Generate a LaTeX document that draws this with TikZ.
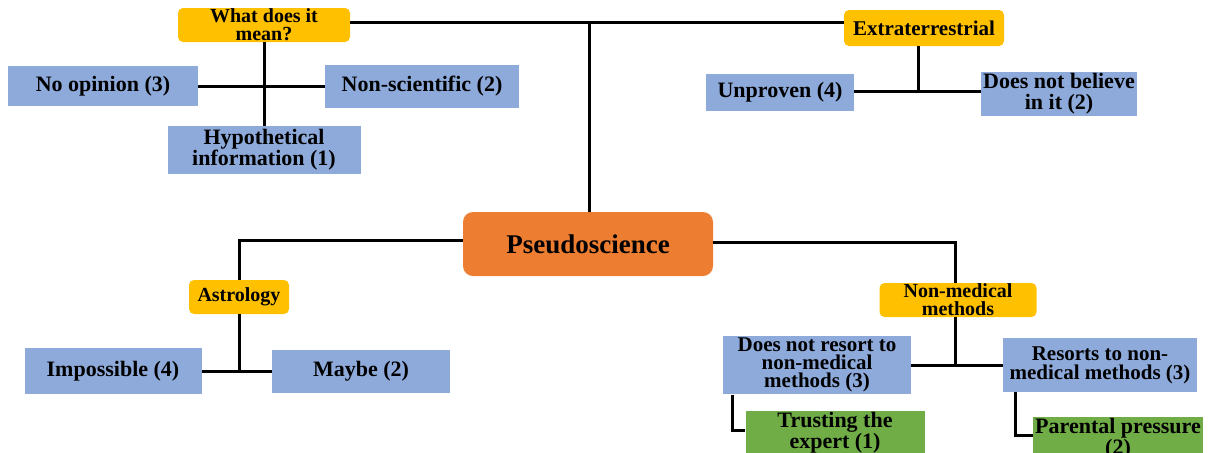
\documentclass[tikz,border=0pt]{standalone}
\usepackage{fontspec}
\setmainfont{Liberation Serif}
\definecolor{rootorange}{HTML}{ED7D31}
\definecolor{topicyellow}{HTML}{FFC000}
\definecolor{answerblue}{HTML}{8EAADB}
\definecolor{reasongreen}{HTML}{70AD47}
\tikzset{
    x=0.5pt, y=-0.5pt, % one unit is one pixel of the sketch, y runs down
    box/.style={inner sep=1pt, align=center}, % shared by every box
    root/.style={box, fill=rootorange, rounded corners=5pt, font=\fontsize{13.5}{14}\selectfont\bfseries}, % the main topic
    topic/.style={box, inner ysep=0pt, fill=topicyellow, rounded corners=2.5pt, font=\fontsize{10}{9}\selectfont\bfseries}, % the four questions
    answer/.style={box, fill=answerblue, font=\fontsize{11}{10.5}\selectfont\bfseries}, % the answers
    reason/.style={box, fill=reasongreen, font=\fontsize{11}{10.5}\selectfont\bfseries}, % the reasons
    link/.style={line width=1.5pt}, % the connectors
}

\begin{document}
\begin{tikzpicture}
        \useasboundingbox (0,0) rectangle (1211,452);

        % topics
        % \node[<style>, <size>] (name) at (x,y) {text};
        \node[root, minimum width=125pt, minimum height=32pt] (PSEUDO) at (588,244) {Pseudoscience};
        \node[topic, minimum width=86pt, minimum height=17pt] (MEAN) at (264,25) {What does it\\mean?};
        \node[topic, minimum width=80pt, minimum height=18pt, font=\fontsize{10.5}{9}\selectfont\bfseries] (EXTRA) at (924,28) {Extraterrestrial};
        \node[topic, minimum width=50pt, minimum height=17pt] (ASTRO) at (239,297) {Astrology};
        \node[topic, minimum width=78.5pt, minimum height=17pt] (NONMED) at (958,300) {Non-medical\\methods};

        % answers
        \node[answer, minimum width=95pt, minimum height=20pt] (MEAN_NO) at (103,86) {No opinion (3)};
        \node[answer, minimum width=97pt, minimum height=21.5pt] (MEAN_NS) at (422,86) {Non-scientific (2)};
        \node[answer, minimum width=96.5pt, minimum height=24pt] (MEAN_HYP) at (264,150) {Hypothetical\\information (1)};
        \node[answer, minimum width=74pt, minimum height=18.5pt] (EXTRA_UN) at (780,92) {Unproven (4)};
        \node[answer, minimum width=77pt, minimum height=22pt] (EXTRA_DN) at (1059,94) {Does not believe\\in it (2)};
        \node[answer, minimum width=88.5pt, minimum height=23pt] (ASTRO_IM) at (113,371) {Impossible (4)};
        \node[answer, minimum width=89pt, minimum height=21.5pt] (ASTRO_MB) at (361,371) {Maybe (2)};
        \node[answer, minimum width=94pt, minimum height=27.5pt, font=\fontsize{10.5}{9}\selectfont\bfseries] (NM_NOT) at (817,365) {Does not resort to\\non-medical\\methods (3)};
        \node[answer, minimum width=97pt, minimum height=27pt, font=\fontsize{10.5}{9.5}\selectfont\bfseries] (NM_YES) at (1100,365) {Resorts to non-\\medical methods (3)};

        % reasons
        \node[reason, minimum width=89.5pt, minimum height=22pt] (NM_TRUST) at (835,433) {Trusting the\\expert (1)};
        \node[reason, minimum width=84pt, minimum height=22pt] (NM_PAR) at (1118,439) {Parental pressure\\(2)};

        % connectors
        \coordinate (J_TOP) at (589,22);
        \coordinate (J_EXTRA) at (918,91);
        \draw[link] (MEAN.east |- J_TOP) -- (EXTRA.west |- J_TOP);
        \draw[link] (J_TOP) -- (J_TOP |- PSEUDO.north);

        \draw[link] (MEAN) -- (MEAN_HYP);
        \draw[link] (MEAN_NO) -- (MEAN_NS);

        \draw[link] (J_EXTRA |- EXTRA.south) -- (J_EXTRA);
        \draw[link] (EXTRA_UN.east |- J_EXTRA) -- (EXTRA_DN.west |- J_EXTRA);

        \draw[link] ([yshift=2pt]PSEUDO.west) -| (ASTRO.north);
        \draw[link] (ASTRO.south) -- (ASTRO.south |- ASTRO_IM);
        \draw[link] (ASTRO_IM) -- (ASTRO_MB);

        \draw[link] ([yshift=1pt]PSEUDO.east) -| ([xshift=-1.5pt]NONMED.north);
        \draw[link] ([xshift=-1.5pt]NONMED.south) -- ([xshift=-1.5pt]NONMED.south |- NM_NOT);
        \draw[link] (NM_NOT) -- (NM_YES);
        \draw[link] ([xshift=5pt]NM_NOT.south west) |- ([yshift=1.5pt]NM_TRUST.west);
        \draw[link] ([xshift=6.5pt]NM_YES.south west) |- ([yshift=2pt]NM_PAR.west);
\end{tikzpicture}
\end{document}
